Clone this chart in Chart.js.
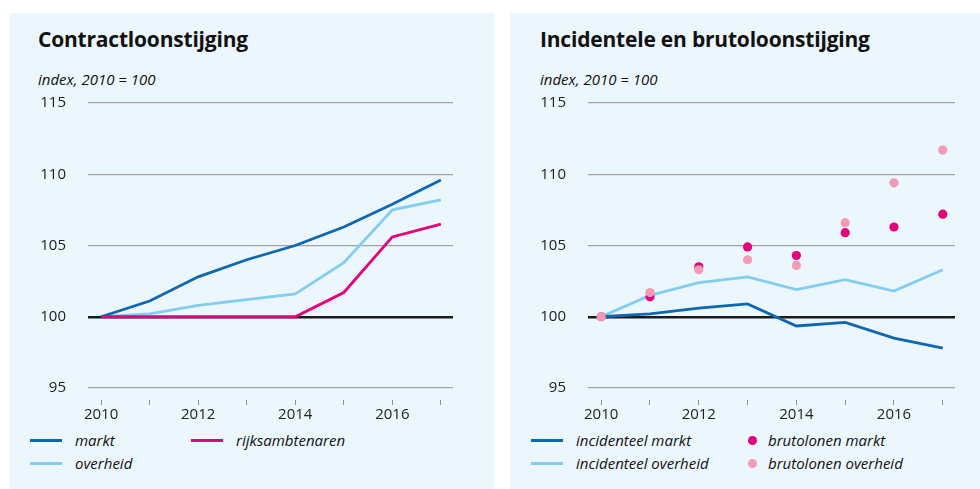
<!DOCTYPE html>
<html>
<head>
<meta charset="utf-8">
<script src="https://cdn.jsdelivr.net/npm/chart.js@4"></script>
<style>
body{margin:0;width:980px;height:489px;background:#fff;position:relative;overflow:hidden;font-family:"Open Sans",sans-serif;color:#111}
.paneel{position:absolute;top:13px;height:476px;background:#ebf6fd}
.titel{position:absolute;top:25px;font-weight:700;font-size:21px;letter-spacing:-0.2px}
.sub{position:absolute;top:69px;font-style:italic;font-size:15px}
canvas{position:absolute}
.leg{position:absolute;height:20px;font-style:italic;font-size:15px;display:flex;align-items:center;white-space:nowrap}
.streep{display:inline-block;width:32px;height:3px;margin-right:13px}
.stip{display:inline-block;width:9px;height:9px;border-radius:50%;margin-right:11px}
</style>
</head>
<body>
<div class="paneel" style="left:9px;width:485px"></div>
<div class="paneel" style="left:510px;width:470px"></div>

<div class="titel" style="left:38px">Contractloonstijging</div>
<div class="sub" style="left:38px">index, 2010 = 100</div>
<div class="titel" style="left:540px">Incidentele en brutoloonstijging</div>
<div class="sub" style="left:540px">index, 2010 = 100</div>

<canvas id="links" width="440" height="353" style="left:30px;top:72px"></canvas>
<canvas id="rechts" width="441" height="353" style="left:530px;top:72px"></canvas>

<div class="leg" style="left:30px;top:430px"><span class="streep" style="background:#0d67b1"></span>markt</div>
<div class="leg" style="left:191px;top:430px"><span class="streep" style="background:#e5007d"></span>rijksambtenaren</div>
<div class="leg" style="left:30px;top:453px"><span class="streep" style="background:#84cdf2"></span>overheid</div>

<div class="leg" style="left:531px;top:430px"><span class="streep" style="background:#0d67b1"></span>incidenteel markt</div>
<div class="leg" style="left:531px;top:453px"><span class="streep" style="background:#84cdf2"></span>incidenteel overheid</div>
<div class="leg" style="left:748px;top:430px"><span class="stip" style="background:#e5007d"></span>brutolonen markt</div>
<div class="leg" style="left:748px;top:453px"><span class="stip" style="background:#f39bb4"></span>brutolonen overheid</div>

<script>
// gegevens
const jaren = [2010, 2011, 2012, 2013, 2014, 2015, 2016, 2017];
const jaarLabels = [2010, 2012, 2014, 2016];
const yWaarden = [95, 100, 105, 110, 115];

const markt = [100, 101.1, 102.8, 104.0, 105.0, 106.3, 107.9, 109.6];
const overheid = [100, 100.2, 100.8, 101.2, 101.6, 103.8, 107.5, 108.2];
const rijksambtenaren = [100, 100, 100, 100, 100, 101.7, 105.6, 106.5];

const incidenteelMarkt = [100, 100.2, 100.6, 100.9, 99.35, 99.6, 98.5, 97.8];
const incidenteelOverheid = [100, 101.5, 102.4, 102.8, 101.9, 102.6, 101.8, 103.3];
const brutolonenMarkt = [100, 101.4, 103.5, 104.9, 104.3, 105.9, 106.3, 107.2];
const brutolonenOverheid = [100, 101.7, 103.3, 104.0, 103.6, 106.6, 109.4, 111.7];

const DONKERBLAUW = '#0d67b1';
const LICHTBLAUW = '#84cdf2';
const ROZE = '#e5007d';
const LICHTROZE = '#f39bb4';
const font = '"Open Sans", sans-serif';

const punten = reeks => jaren.map((j, i) => ({ x: j, y: reeks[i] }));

function lijn(data, kleur, volgorde) {
    return {
        data: punten(data),
        borderColor: kleur,
        borderWidth: 2.8,
        pointRadius: 0,
        tension: 0,
        order: volgorde
    };
}

function stippen(data, kleur, volgorde) {
    return {
        data: punten(data),
        showLine: false,
        pointRadius: 4.6,
        pointBorderWidth: 0,
        pointBackgroundColor: kleur,
        borderColor: kleur,
        order: volgorde
    };
}

function schalen() {
    return {
        x: {
            type: 'linear',
            min: 2009.73,
            max: 2017.25,
            afterBuildTicks: s => { s.ticks = jaren.map(v => ({ value: v })); },
            afterFit: s => { s.height = 37; },
            border: { display: false },
            grid: {
                drawOnChartArea: false,
                tickLength: 18,
                color: '#8f8f8f',
                lineWidth: 1,
                tickBorderDash: [0, 12, 5, 40]
            },
            ticks: {
                padding: 0,
                color: '#222',
                maxRotation: 0,
                autoSkip: false,
                font: { family: font, size: 15 },
                callback: v => jaarLabels.includes(v) ? String(v) : ''
            }
        },
        y: {
            min: 95,
            max: 115,
            afterBuildTicks: s => { s.ticks = yWaarden.map(v => ({ value: v })); },
            afterFit: s => { s.width = 58; },
            border: { display: false },
            grid: {
                drawTicks: false,
                color: c => c.tick && c.tick.value === 100 ? '#1a1a1a' : '#a3a3a3',
                lineWidth: c => c.tick && c.tick.value === 100 ? 2.5 : 1.3
            },
            ticks: {
                padding: 22,
                color: '#222',
                font: { family: font, size: 15 },
                callback: v => String(v)
            }
        }
    };
}

function opties(rechts) {
    return {
        responsive: false,
        animation: false,
        events: [],
        layout: { padding: { top: 12, right: rechts ? 16 : 17, left: 0, bottom: 0 } },
        plugins: { legend: { display: false }, tooltip: { enabled: false } },
        scales: schalen()
    };
}

new Chart(document.getElementById('links'), {
    type: 'line',
    data: {
        datasets: [
            lijn(markt, DONKERBLAUW, 1),
            lijn(overheid, LICHTBLAUW, 2),
            lijn(rijksambtenaren, ROZE, 0)
        ]
    },
    options: opties(false)
});

new Chart(document.getElementById('rechts'), {
    type: 'line',
    data: {
        datasets: [
            lijn(incidenteelMarkt, DONKERBLAUW, 3),
            lijn(incidenteelOverheid, LICHTBLAUW, 4),
            stippen(brutolonenMarkt, ROZE, 1),
            stippen(brutolonenOverheid, LICHTROZE, 0)
        ]
    },
    options: opties(true)
});
</script>
</body>
</html>
